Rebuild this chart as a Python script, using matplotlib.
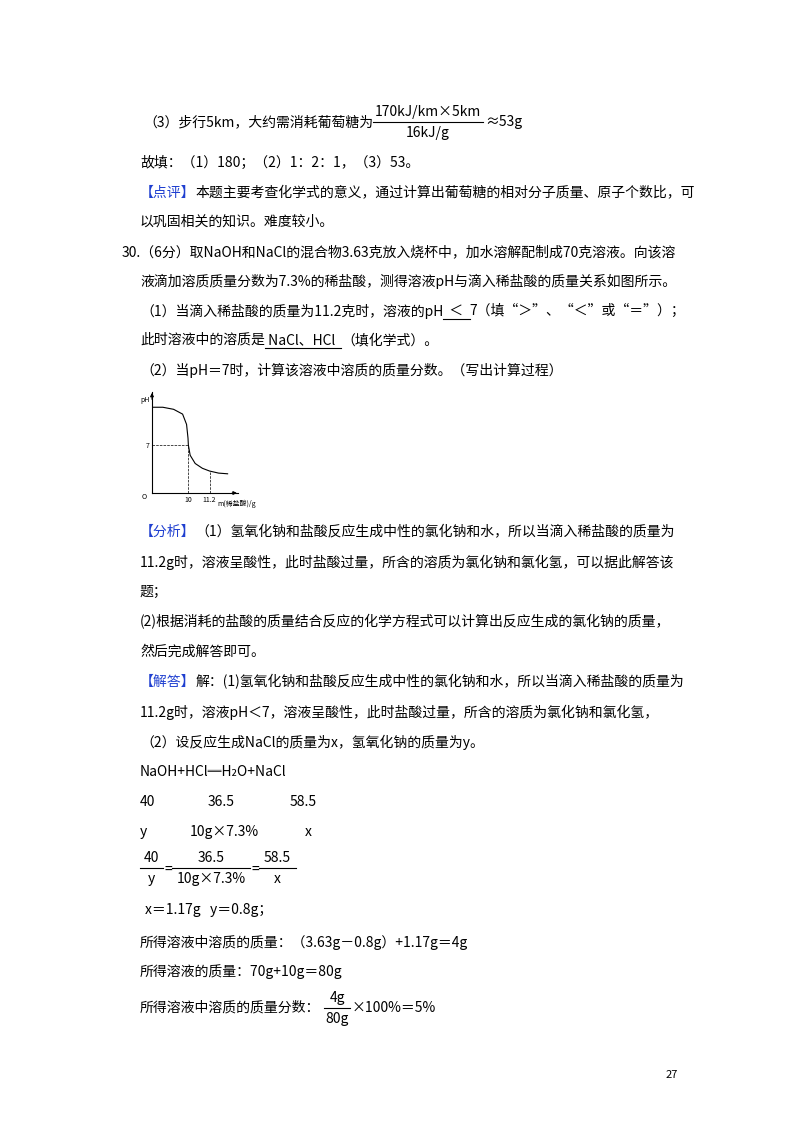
import numpy as np
import matplotlib
matplotlib.use('Agg')
import matplotlib.pyplot as plt

plt.rcParams['font.family'] = ['Noto Sans CJK SC', 'DejaVu Sans']

W, H = 800, 1132
BLUE = '#1f3fd0'
FS = 10

# curve (x in sketch units, pH)
curve_x = [0, 3, 6, 8.5, 9.6, 10, 10.1, 10.6, 12, 14, 16, 18.5, 21]
curve_ph = [12.5, 12.5, 12.2, 11.5, 10, 8, 7, 5.5, 4.3, 3.6, 3.2, 2.9, 2.8]
tick_pos = [10, 16]
tick_labels = ['10', '11.2']

fig = plt.figure(figsize=(W / 100, H / 100), dpi=100)
fig.patch.set_facecolor('white')
bg = fig.add_axes([0, 0, 1, 1])
bg.set_xlim(0, W)
bg.set_ylim(H, 0)
bg.axis('off')
renderer = fig.canvas.get_renderer()


def seg(x, y, parts, fs=FS):
    # parts: text, or (text, color, underline)
    for p in parts:
        if isinstance(p, str):
            p = (p, 'black', False)
        s, c, ul = p
        tx = bg.text(x, y, s, va='center', ha='left', fontsize=fs, color=c)
        bb = tx.get_window_extent(renderer)
        w = bb.width
        if ul:
            bg.plot([x, x + w], [y + 8, y + 8], color='black', lw=0.8)
        x += w
    return x


def frac(x0, x1, y, num, den, fs=FS):
    xc = (x0 + x1) / 2
    bg.text(xc, y - 10, num, ha='center', va='center', fontsize=fs)
    bg.text(xc, y + 11, den, ha='center', va='center', fontsize=fs)
    bg.plot([x0, x1], [y, y], color='black', lw=0.8)


L = 140
x = seg(143, 122, ['（3）步行5km，大约需消耗葡萄糖为'])
frac(x, x + 110, 122, '170kJ/km×5km', '16kJ/g')
seg(x + 112, 122, ['≈53g'])

seg(L, 163, ['故填：（1）180；（2）1：2：1，（3）53。'])
seg(L, 193, [('【点评】', BLUE, False), '本题主要考查化学式的意义，通过计算出葡萄糖的相对分子质量、原子个数比，可'])
seg(L, 222, ['以巩固相关的知识。难度较小。'])
seg(122, 252, ['30.（6分）取NaOH和NaCl的混合物3.63克放入烧杯中，加水溶解配制成70克溶液。向该溶'])
seg(L, 281, ['液滴加溶质质量分数为7.3%的稀盐酸，测得溶液pH与滴入稀盐酸的质量关系如图所示。'])
seg(L, 311, ['（1）当滴入稀盐酸的质量为11.2克时，溶液的pH', ('  ＜  ', 'black', True),
             '7（填“＞”、“＜”或“＝”）；'])
seg(L, 340, ['此时溶液中的溶质是', (' NaCl、HCl  ', 'black', True), '（填化学式）。'])
seg(L, 370, ['（2）当pH＝7时，计算该溶液中溶质的质量分数。（写出计算过程）'])

seg(L, 532, [('【分析】', BLUE, False), '（1）氢氧化钠和盐酸反应生成中性的氯化钠和水，所以当滴入稀盐酸的质量为'])
seg(L, 562, ['11.2g时，溶液呈酸性，此时盐酸过量，所含的溶质为氯化钠和氯化氢，可以据此解答该'])
seg(L, 592, ['题；'])
seg(L, 622, ['(2)根据消耗的盐酸的质量结合反应的化学方程式可以计算出反应生成的氯化钠的质量，'])
seg(L, 652, ['然后完成解答即可。'])
seg(L, 682, [('【解答】', BLUE, False), '解：(1)氢氧化钠和盐酸反应生成中性的氯化钠和水，所以当滴入稀盐酸的质量为'])
seg(L, 712, ['11.2g时，溶液pH＜7，溶液呈酸性，此时盐酸过量，所含的溶质为氯化钠和氯化氢，'])
seg(L, 742, ['（2）设反应生成NaCl的质量为x，氢氧化钠的质量为y。'])
seg(L, 772, ['NaOH+HCl═H₂O+NaCl'])
seg(L, 802, ['40']); seg(208, 802, ['36.5']); seg(290, 802, ['58.5'])
seg(L, 832, ['y']); seg(190, 832, ['10g×7.3%']); seg(305, 832, ['x'])

frac(L, 163, 868, '40', 'y')
seg(164, 870, ['='])
frac(172, 250, 868, '36.5', '10g×7.3%')
seg(251, 870, ['='])
frac(259, 296, 868, '58.5', 'x')

seg(145, 910, ['x＝1.17g   y＝0.8g；'])
seg(L, 942, ['所得溶液中溶质的质量：（3.63g－0.8g）+1.17g＝4g'])
seg(L, 972, ['所得溶液的质量：70g+10g＝80g'])
x = seg(L, 1008, ['所得溶液中溶质的质量分数：'])
frac(x + 4, x + 30, 1008, '4g', '80g')
seg(x + 31, 1008, ['×100%＝5%'])

seg(666, 1075, ['27'], fs=8)

# the small pH sketch
sx, sy = 152, 493          # origin pixel
ux, uy = 3.6, 6.86         # px per sketch unit
ax = fig.add_axes([sx / W, 1 - sy / H, 86 / W, 101 / H])
for s in ['top', 'right']:
    ax.spines[s].set_visible(False)
for s in ['left', 'bottom']:
    ax.spines[s].set_linewidth(0.8)
ax.patch.set_alpha(0)
ax.plot(curve_x, curve_ph, color='black', lw=0.8)
ax.plot([0, 10], [7, 7], 'k--', lw=0.5)
ax.plot([10, 10], [0, 7], 'k--', lw=0.5)
ax.plot([16, 16], [0, np.interp(16, curve_x, curve_ph)], 'k--', lw=0.5)
ax.set_xticks(tick_pos)
ax.set_xticklabels(tick_labels, fontsize=5)
ax.set_yticks([7])
ax.set_yticklabels(['7'], fontsize=5)
ax.tick_params(length=0, pad=2)
ax.set_xlim(0, 86 / ux)
ax.set_ylim(0, 101 / uy)
ax.annotate('', xy=(1.02, 0), xytext=(0.9, 0), xycoords='axes fraction',
            arrowprops=dict(arrowstyle='-|>', color='black', lw=0.8, mutation_scale=5))
ax.annotate('', xy=(0, 1.02), xytext=(0, 0.9), xycoords='axes fraction',
            arrowprops=dict(arrowstyle='-|>', color='black', lw=0.8, mutation_scale=5))
seg(142, 497, ['O'], fs=5)
seg(140, 400, ['pH'], fs=5)
seg(217, 504, ['m(稀盐酸)/g'], fs=5)

fig.savefig('out.png', dpi=100)
